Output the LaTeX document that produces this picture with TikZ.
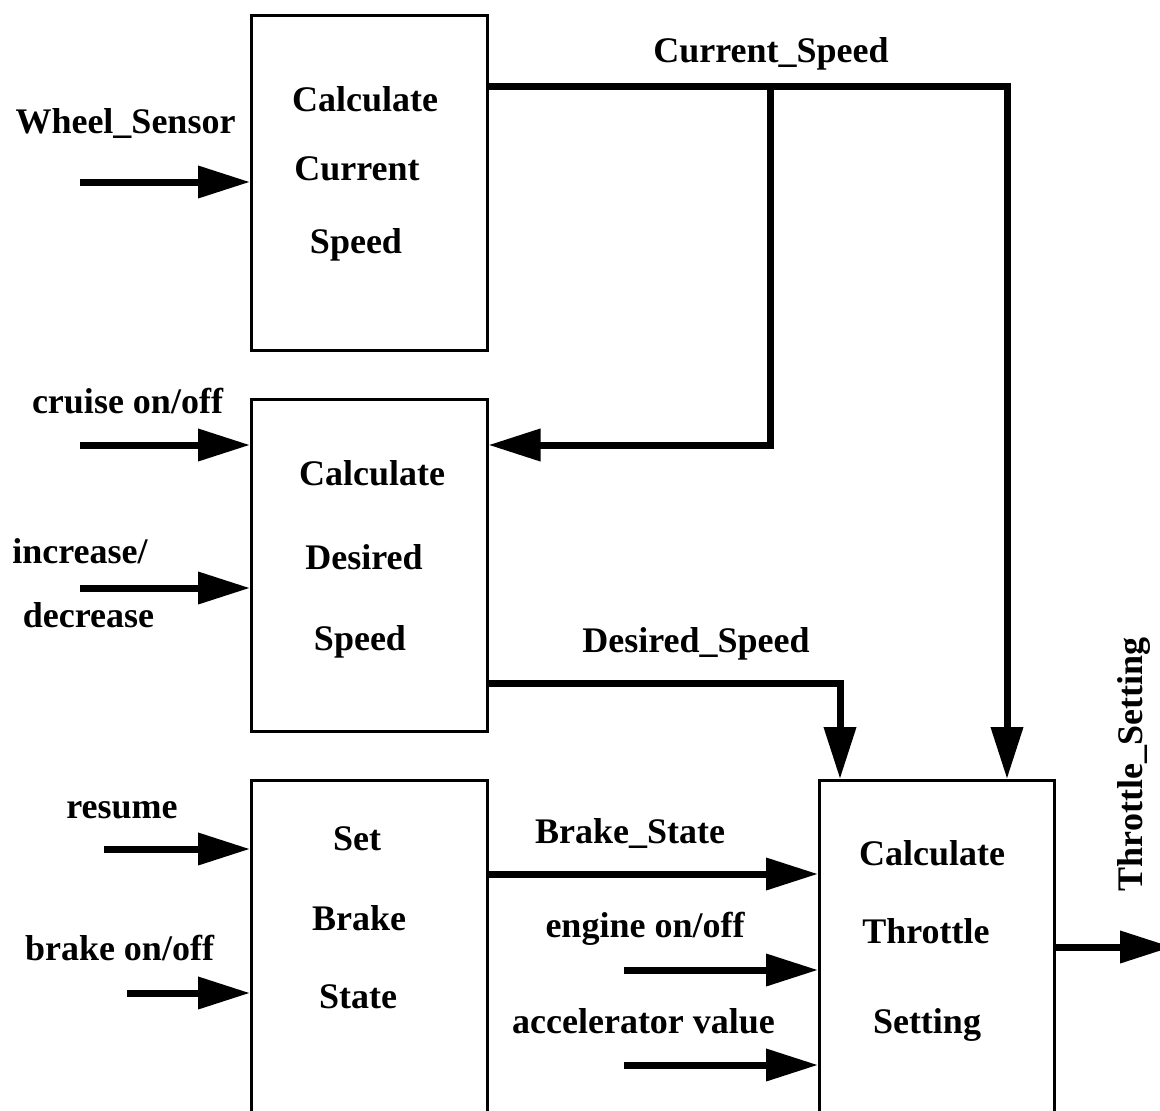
\documentclass[tikz,border=0pt]{standalone}
\usepackage{fontspec}
\setmainfont{Liberation Serif}
\usetikzlibrary{arrows.meta}
\tikzset{
  box/.style={draw=black, line width=2.5pt, fill=none, anchor=north west, inner sep=0pt},
  lbl/.style={font=\fontsize{36}{40}\selectfont\bfseries, inner sep=0pt, anchor=base},
  wire/.style={line width=7pt, line join=miter, line cap=butt},
  flow/.style={wire, -{Triangle[length=52pt, width=31pt]}}
}
\begin{document}
\begin{tikzpicture}[x=1pt, y=-1pt]
\clip (0,0) rectangle (1160,1111);
\fill[white] (0,0) rectangle (1160,1111);

% boxes
\node[box, minimum width=236pt, minimum height=335pt] (b1) at (250,14) {};
\node[box, minimum width=236pt, minimum height=332pt] (b2) at (250,398) {};
\node[box, minimum width=236pt, minimum height=360pt] (b3) at (250,779) {};
\node[box, minimum width=235pt, minimum height=360pt] (b4) at (818,779) {};

% box texts
\node[lbl] (t1a) at (365,111) {Calculate};
\node[lbl] (t1b) at (357,180) {Current};
\node[lbl] (t1c) at (356,253) {Speed};
\node[lbl] (t2a) at (372,485) {Calculate};
\node[lbl] (t2b) at (364,569) {Desired};
\node[lbl] (t2c) at (360,650) {Speed};
\node[lbl] (t3a) at (357,850) {Set};
\node[lbl] (t3b) at (359,930) {Brake};
\node[lbl] (t3c) at (358,1008) {State};
\node[lbl] (t4a) at (932,865) {Calculate};
\node[lbl] (t4b) at (926,943) {Throttle};
\node[lbl] (t4c) at (927,1033) {Setting};

% external labels
\node[lbl] (lws) at (125.5,133) {Wheel\_Sensor};
\node[lbl] (lcs) at (771,62) {Current\_Speed};
\node[lbl] (lcr) at (127.5,413) {cruise on/off};
\node[lbl] (lin) at (80,563) {increase/};
\node[lbl] (lde) at (88.5,627) {decrease};
\node[lbl] (lds) at (696,652) {Desired\_Speed};
\node[lbl] (lre) at (122,818) {resume};
\node[lbl] (lbr) at (119.5,960) {brake on/off};
\node[lbl] (lbs) at (630,843) {Brake\_State};
\node[lbl] (len) at (645,937) {engine on/off};
\node[lbl] (lac) at (643.5,1033) {accelerator value};
\node[lbl, rotate=90] (lts) at (1142,764.5) {Throttle\_Setting};

% free ends and corners
\coordinate (iws) at (80,182);
\coordinate (icr) at (80,445);
\coordinate (iin) at (80,588);
\coordinate (ire) at (104,849);
\coordinate (ibr) at (127,993);
\coordinate (ien) at (624,970);
\coordinate (iac) at (624,1065);
\coordinate (csA) at (1007,86);
\coordinate (csB) at (770,86);
\coordinate (csC) at (770,445);
\coordinate (dsA) at (840,683);
\coordinate (bsA) at (0,874);
\coordinate (oA) at (0,947);
\coordinate (oEnd) at (1172,947);

% input arrows
\draw[flow] (iws) -- (iws -| b1.west);
\draw[flow] (icr) -- (icr -| b2.west);
\draw[flow] (iin) -- (iin -| b2.west);
\draw[flow] (ire) -- (ire -| b3.west);
\draw[flow] (ibr) -- (ibr -| b3.west);
\draw[flow] (ien) -- (ien -| b4.west);
\draw[flow] (iac) -- (iac -| b4.west);

% Current_Speed
\draw[flow] ([xshift=-3pt]b1.east |- csA) -- (csA) -- (csA |- b4.north);
\draw[flow] (csB) -- (csC) -- (csC -| b2.east);

% Desired_Speed
\draw[flow] ([xshift=-3pt]b2.east |- dsA) -- (dsA) -- (dsA |- b4.north);

% Brake_State
\draw[flow] ([xshift=-3pt]b3.east |- bsA) -- (bsA -| b4.west);

% Throttle_Setting output
\draw[flow] ([xshift=-3pt]b4.east |- oA) -- (oEnd);
\end{tikzpicture}
\end{document}
